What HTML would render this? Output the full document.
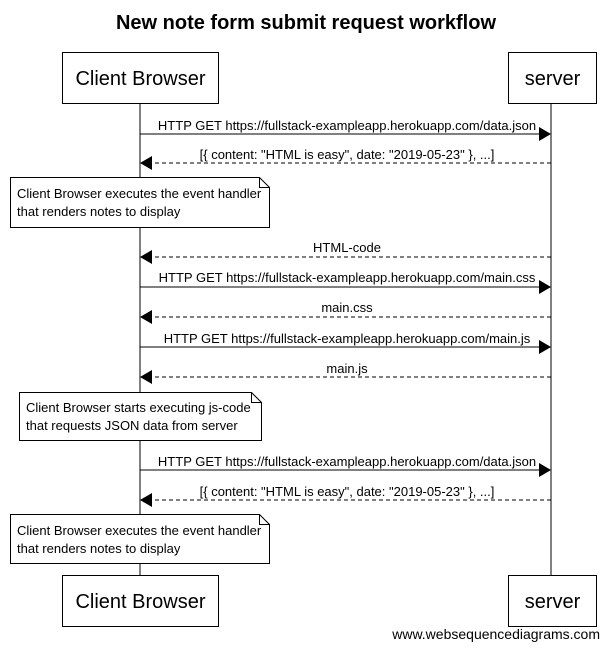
<!DOCTYPE html>
<html><head><meta charset="utf-8"><style>
html,body{margin:0;padding:0;background:#fff;}
svg{display:block;font-family:"Liberation Sans",Arial,sans-serif;}
</style></head><body>
<svg width="609" height="649" viewBox="0 0 609 649" xmlns="http://www.w3.org/2000/svg">
<defs>
<marker id="a" markerWidth="12" markerHeight="14" refX="11" refY="7" orient="auto" markerUnits="userSpaceOnUse">
<path d="M0,0 L12,7 L0,14 z" fill="#000"/></marker>
</defs>
<text x="306" y="29" text-anchor="middle" font-size="20" font-weight="bold">New note form submit request workflow</text>
<line x1="140" y1="103" x2="140" y2="576" stroke="#000"/>
<line x1="551" y1="103" x2="551" y2="576" stroke="#000"/>
<g fill="#fff" stroke="#000">
<rect x="62.5" y="52.5" width="156" height="51"/>
<rect x="508.5" y="52.5" width="88" height="51"/>
<rect x="62.5" y="575.5" width="156" height="51"/>
<rect x="508.5" y="575.5" width="88" height="51"/>
</g>
<g font-size="20" text-anchor="middle">
<text x="140.5" y="85">Client Browser</text>
<text x="552.5" y="85">server</text>
<text x="140.5" y="608">Client Browser</text>
<text x="552.5" y="608">server</text>
</g>
<g stroke="#000" stroke-width="1">
<line x1="140" y1="134" x2="550" y2="134" marker-end="url(#a)"/>
<line x1="551" y1="163" x2="141" y2="163" stroke-dasharray="4,3" marker-end="url(#a)"/>
<line x1="551" y1="257" x2="141" y2="257" stroke-dasharray="4,3" marker-end="url(#a)"/>
<line x1="140" y1="287" x2="550" y2="287" marker-end="url(#a)"/>
<line x1="551" y1="317" x2="141" y2="317" stroke-dasharray="4,3" marker-end="url(#a)"/>
<line x1="140" y1="347" x2="550" y2="347" marker-end="url(#a)"/>
<line x1="551" y1="377" x2="141" y2="377" stroke-dasharray="4,3" marker-end="url(#a)"/>
<line x1="140" y1="470" x2="550" y2="470" marker-end="url(#a)"/>
<line x1="551" y1="500" x2="141" y2="500" stroke-dasharray="4,3" marker-end="url(#a)"/>
</g>
<g font-size="13" text-anchor="middle">
<text x="347" y="130">HTTP GET https://fullstack-exampleapp.herokuapp.com/data.json</text>
<text x="347" y="159">[{ content: "HTML is easy", date: "2019-05-23" }, ...]</text>
<text x="347" y="252">HTML-code</text>
<text x="347" y="282">HTTP GET https://fullstack-exampleapp.herokuapp.com/main.css</text>
<text x="347" y="312">main.css</text>
<text x="347" y="343">HTTP GET https://fullstack-exampleapp.herokuapp.com/main.js</text>
<text x="347" y="373">main.js</text>
<text x="347" y="466">HTTP GET https://fullstack-exampleapp.herokuapp.com/data.json</text>
<text x="347" y="496">[{ content: "HTML is easy", date: "2019-05-23" }, ...]</text>
</g>
<g fill="#fff" stroke="#000">
<path d="M10.5,177.5 H259.5 L269.5,187.5 V227.5 H10.5 Z"/><path d="M259.5,177.5 V187.5 H269.5" fill="none"/>
<path d="M19.5,392.5 H251.5 L261.5,402.5 V440.5 H19.5 Z"/><path d="M251.5,392.5 V402.5 H261.5" fill="none"/>
<path d="M10.5,514.5 H259.5 L269.5,524.5 V563.5 H10.5 Z"/><path d="M259.5,514.5 V524.5 H269.5" fill="none"/>
</g>
<g font-size="13">
<text x="17" y="198">Client Browser executes the event handler</text>
<text x="17" y="216">that renders notes to display</text>
<text x="26" y="412">Client Browser starts executing js-code</text>
<text x="26" y="430">that requests JSON data from server</text>
<text x="17" y="535">Client Browser executes the event handler</text>
<text x="17" y="553">that renders notes to display</text>
</g>
<text x="600" y="639" font-size="14" text-anchor="end">www.websequencediagrams.com</text>
</svg>
</body></html>
